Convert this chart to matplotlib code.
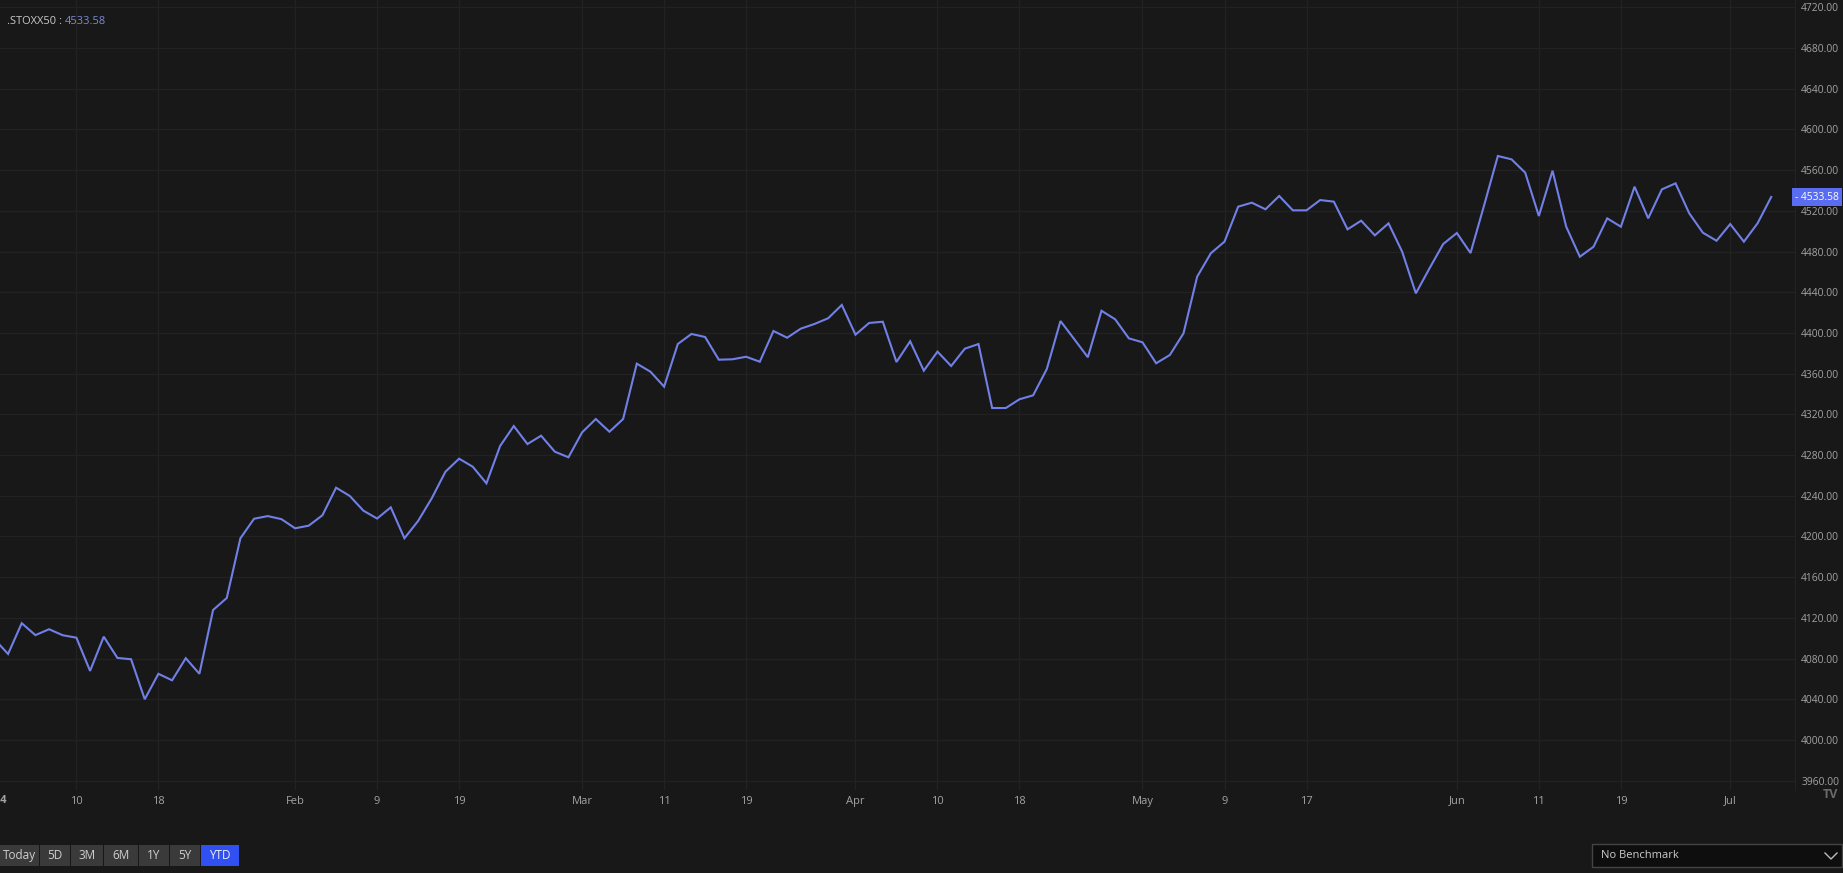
import matplotlib.pyplot as plt
import matplotlib.transforms as mtransforms
from matplotlib.patches import Rectangle
import pandas as pd

# trading days 2024 YTD (Good Friday / Easter Monday closed)
holidays = ['2024-03-29', '2024-04-01']
dates = pd.bdate_range('2024-01-02', '2024-07-04')
dates = dates[~dates.isin(pd.to_datetime(holidays))]

closes = [
    4099.0, 4084.5, 4114.7, 4103.0, 4108.8, 4102.9, 4100.5, 4067.8, 4101.5, 4080.6,
    4079.3, 4040.0, 4065.0, 4058.6, 4080.3, 4065.0, 4127.7, 4139.5, 4198.2, 4217.4,
    4220.0, 4217.0, 4208.0, 4210.6, 4220.8, 4247.9, 4239.8, 4225.3, 4217.6, 4228.6,
    4198.2, 4215.2, 4237.5, 4263.6, 4276.4, 4268.5, 4252.2, 4288.9, 4308.5, 4290.8,
    4299.0, 4283.3, 4277.8, 4302.3, 4315.4, 4302.9, 4315.4, 4369.8, 4361.9, 4347.2,
    4389.1, 4399.0, 4396.0, 4373.7, 4374.1, 4376.6, 4371.7, 4401.9, 4395.3, 4404.2,
    4408.8, 4414.4, 4427.5, 4398.3, 4409.8, 4411.0, 4371.4, 4391.8, 4362.9, 4381.6,
    4367.5, 4384.5, 4389.1, 4326.2, 4326.2, 4334.8, 4338.7, 4364.6, 4411.7, 4394.0,
    4376.1, 4421.8, 4413.4, 4394.7, 4390.8, 4370.2, 4378.3, 4399.6, 4455.3, 4478.3,
    4489.7, 4524.1, 4528.0, 4521.5, 4534.6, 4520.5, 4520.5, 4530.6, 4529.0, 4501.8,
    4510.3, 4495.9, 4507.7, 4479.8, 4438.9, 4463.5, 4487.4, 4498.2, 4478.5, 4525.7,
    4573.9, 4570.6, 4557.5, 4514.9, 4559.4, 4504.4, 4474.9, 4484.7, 4512.6, 4504.4,
    4543.7, 4512.6, 4541.1, 4547.0, 4517.6, 4498.5, 4490.6, 4507.0, 4489.7, 4507.7,
    4533.58,
]

tick_dates = ['2024-01-10', '2024-01-18', '2024-02-01', '2024-02-09', '2024-02-19',
              '2024-03-01', '2024-03-11', '2024-03-19', '2024-04-02', '2024-04-10',
              '2024-04-18', '2024-05-01', '2024-05-09', '2024-05-17', '2024-06-03',
              '2024-06-11', '2024-06-19', '2024-07-01']
tick_labels = ['10', '18', 'Feb', '9', '19', 'Mar', '11', '19', 'Apr', '10',
               '18', 'May', '9', '17', 'Jun', '11', '19', 'Jul']
y_ticks = list(range(3960, 4721, 40))

buttons = ['Today', '5D', '3M', '6M', '1Y', '5Y', 'YTD']
symbol = '.STOXX50'
last = closes[-1]

bg = '#181818'
grid_c = '#222222'
line_c = '#7080e6'
txt_c = '#a3a3a3'

W, H = 1843, 873
fig = plt.figure(figsize=(W / 100, H / 100), dpi=100, facecolor=bg)
plt.rcParams['font.family'] = ['Open Sans', 'DejaVu Sans']

# main chart area
ax = fig.add_axes([0, 1 - 790 / H, 1795 / W, 790 / H])
ax.set_facecolor(bg)
x = list(range(len(dates)))
ax.plot(x, closes, color=line_c, lw=1.5, solid_joinstyle='miter')

idx = {d: i for i, d in enumerate(dates.strftime('%Y-%m-%d'))}
tick_pos = [idx[d] for d in tick_dates]
ax.set_xticks(tick_pos)
ax.set_xticklabels(tick_labels)
ax.set_xlim(0.41, 131.74)
ax.set_ylim(3950.8, 4727.2)
ax.set_yticks(y_ticks)
ax.set_yticklabels([f'{v:.2f}' for v in y_ticks])
ax.yaxis.tick_right()
ax.tick_params(axis='y', length=0, pad=4.5, labelsize=7.4, labelcolor=txt_c)
ax.tick_params(axis='x', length=0, pad=4, labelsize=8, labelcolor=txt_c)
ax.grid(True, color=grid_c, lw=1)
ax.axvline(idx['2024-01-02'], color=grid_c, lw=1)
for s in ['top', 'left', 'bottom']:
    ax.spines[s].set_visible(False)
ax.spines['right'].set_color('#222222')

# year label at first session (mostly cut off)
trans = mtransforms.blended_transform_factory(ax.transData, ax.transAxes)
ax.text(idx['2024-01-02'], -0.0063, '2024', transform=trans, ha='center', va='top',
        fontsize=8, color=txt_c, fontweight='bold', clip_on=False)

# last price tag
trans_y = mtransforms.blended_transform_factory(ax.transAxes, ax.transData)
ax.text(1.0, last, f'- {last:.2f}', transform=trans_y, ha='left', va='center',
        fontsize=7.4, color='white', clip_on=False,
        bbox=dict(boxstyle='square,pad=0.3', fc='#5a6cf0', ec='none'))

# overlay for header / buttons / dropdown
ov = fig.add_axes([0, 0, 1, 1])
ov.set_xlim(0, W)
ov.set_ylim(H, 0)
ov.axis('off')
ov.patch.set_alpha(0)

ov.text(7, 21, f'{symbol} : ', ha='left', va='center', fontsize=8, color='#c8c8c8')
ov.text(65, 21, f'{last:.2f}', ha='left', va='center', fontsize=8, color='#7d88d8')

edges = [0, 40, 71, 104, 139, 170, 201, 240]
for i, lab in enumerate(buttons):
    x0, x1 = edges[i], edges[i + 1]
    active = lab == 'YTD'
    ov.add_patch(Rectangle((x0, 845), x1 - x0 - 1, 21,
                           fc='#3150f2' if active else '#3a3a3a', ec='none'))
    ov.text((x0 + x1 - 1) / 2, 855.5, lab, ha='center', va='center', fontsize=8.5,
            color='#f0f0f0' if active else '#cfcfcf')

ov.add_patch(Rectangle((1592, 844), 250, 23, fc='#0e0e0e', ec='#444444', lw=1))
ov.text(1601, 856, 'No Benchmark', ha='left', va='center', fontsize=8, color='#cccccc')
ov.plot([1825, 1831, 1837], [853, 859, 853], color='#bbbbbb', lw=1)

ov.text(1830, 795, 'TV', ha='center', va='center', fontsize=9, fontweight='bold',
        color='#6a6a6a')

fig.savefig('out.png', dpi=100, facecolor=bg)
